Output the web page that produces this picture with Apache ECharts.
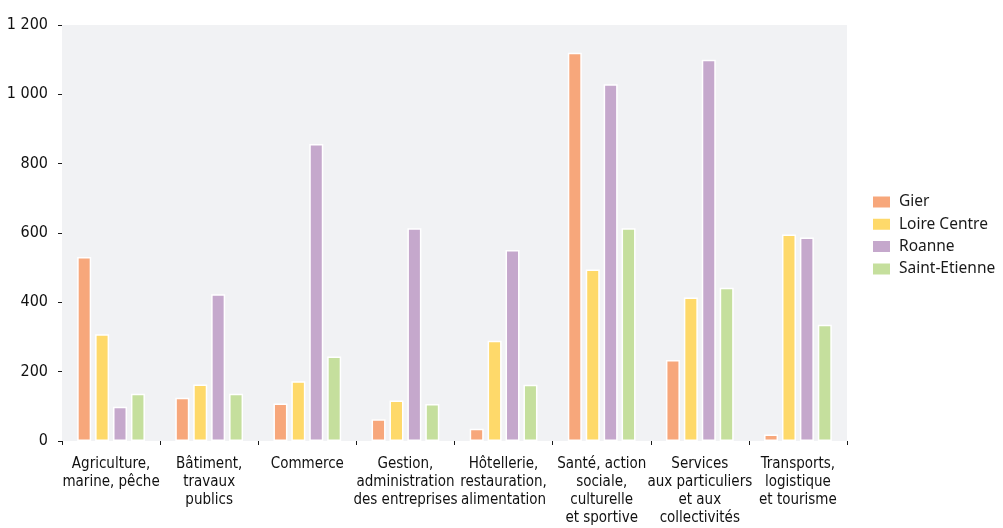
<!DOCTYPE html>
<html>
<head>
<meta charset="utf-8">
<script src="https://cdn.jsdelivr.net/npm/echarts@6/dist/echarts.min.js"></script>
<style>
  html, body { margin: 0; padding: 0; background: #ffffff; }
  #chart { width: 1003px; height: 528px; }
</style>
</head>
<body>
<div id="chart"></div>
<script>
// Sectors of activity (x-axis categories)
const categories = [
  'Agriculture,\nmarine, pêche',
  'Bâtiment,\ntravaux\npublics',
  'Commerce',
  'Gestion,\nadministration\ndes entreprises',
  'Hôtellerie,\nrestauration,\nalimentation',
  'Santé, action\nsociale,\nculturelle\net sportive',
  'Services\naux particuliers\net aux\ncollectivités',
  'Transports,\nlogistique\net tourisme'
];

// Values per territory
const gier         = [531, 125, 108,  63,  35, 1120, 234,  19];
const loireCentre  = [308, 163, 172, 117, 289,  495, 414, 596];
const roanne       = [ 99, 423, 857, 614, 551, 1029, 1100, 587];
const saintEtienne = [136, 136, 244, 107, 162,  614, 442, 335];

const seriesNames = ['Gier', 'Loire Centre', 'Roanne', 'Saint-Etienne'];
const seriesColors = ['#f7a77b', '#fed96a', '#c5a8cc', '#c5df9d'];
const seriesData = [gier, loireCentre, roanne, saintEtienne];

const condensed = "'Liberation Sans Narrow', 'DejaVu Sans Condensed', sans-serif";

function formatThousands(v) {
  return String(v).replace(/\B(?=(\d{3})+(?!\d))/g, ' ');
}

const chart = echarts.init(document.getElementById('chart'), null, { renderer: 'canvas' });

chart.setOption({
  animation: false,
  backgroundColor: '#ffffff',
  grid: {
    left: 62, right: 156, top: 25, bottom: 87,
    show: true,
    backgroundColor: '#f1f2f4',
    borderWidth: 0
  },
  legend: {
    orient: 'vertical',
    left: 866,
    top: 189,
    itemWidth: 19,
    itemHeight: 13,
    itemGap: 6.3,
    icon: 'rect',
    textStyle: {
      fontFamily: "'Noto Sans', sans-serif",
      fontSize: 15.5,
      color: '#1a1a1a',
      padding: [0, 0, 0, 3]
    },
    data: seriesNames
  },
  xAxis: {
    type: 'category',
    data: categories,
    axisLine: { show: false },
    axisTick: { show: true, length: 4, lineStyle: { color: '#1a1a1a', width: 1 } },
    axisLabel: {
      interval: 0,
      margin: 14,
      fontFamily: condensed,
      fontSize: 15,
      lineHeight: 18,
      color: '#111111',
      align: 'center'
    },
    splitLine: { show: false }
  },
  yAxis: {
    type: 'value',
    min: 0,
    max: 1200,
    interval: 200,
    axisLine: { show: false },
    axisTick: { show: true, length: 4, lineStyle: { color: '#1a1a1a', width: 1 } },
    axisLabel: {
      margin: 14,
      fontFamily: condensed,
      fontSize: 16,
      color: '#111111',
      formatter: formatThousands
    },
    splitLine: { show: false }
  },
  series: seriesData.map((d, i) => ({
    name: seriesNames[i],
    type: 'bar',
    data: d,
    barWidth: 14,
    barGap: '28%',
    itemStyle: {
      color: seriesColors[i],
      borderColor: '#ffffff',
      borderWidth: 1.5
    }
  }))
});
</script>
</body>
</html>
